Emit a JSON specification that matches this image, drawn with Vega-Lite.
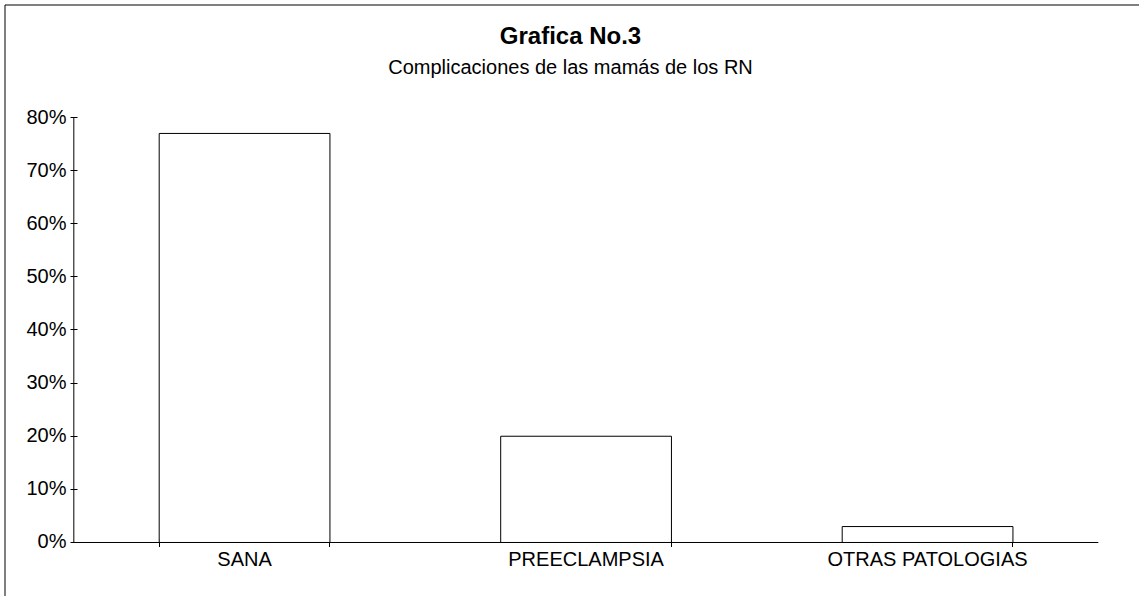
{
  "$schema": "https://vega.github.io/schema/vega-lite/v6.json",
  "width": 1150,
  "height": 600,
  "autosize": {"type": "none"},
  "padding": {"left": 4.5, "top": 4.5, "right": 0, "bottom": 0},
  "background": "white",
  "view": {"stroke": "#000000", "strokeWidth": 1},
  "config": {
    "font": "Liberation Sans",
    "axis": {"grid": false}
  },
  "title": {
    "text": "Grafica No.3",
    "subtitle": "Complicaciones de las mamás de los RN",
    "fontSize": 24,
    "fontWeight": "bold",
    "subtitleFontSize": 20,
    "subtitleFontWeight": "normal",
    "color": "#000000",
    "subtitleColor": "#000000",
    "font": "Liberation Sans",
    "subtitleFont": "Liberation Sans",
    "anchor": "middle",
    "frame": "group",
    "dx": -9,
    "offset": -73,
    "subtitlePadding": 9
  },
  "data": {
    "values": [
      {"categoria": "SANA", "porcentaje": 0.77},
      {"categoria": "PREECLAMPSIA", "porcentaje": 0.20},
      {"categoria": "OTRAS PATOLOGIAS", "porcentaje": 0.03}
    ]
  },
  "layer": [
    {
      "mark": {"type": "bar", "fill": "#ffffff", "stroke": "#000000", "strokeWidth": 1},
      "encoding": {
        "x": {
          "field": "categoria",
          "type": "nominal",
          "sort": null,
          "scale": {"paddingInner": 0.5, "paddingOuter": 0.43375, "align": 0.5222},
          "axis": {
            "title": null,
            "orient": "bottom",
            "offset": -65.5,
            "translate": 0,
            "domain": false,
            "tickBand": "extent",
            "tickSize": 8,
            "tickColor": "#000000",
            "labelFontSize": 20,
            "labelColor": "#000000",
            "labelFont": "Liberation Sans",
            "labelAngle": 0,
            "labelPadding": 3,
            "labelLimit": 0
          }
        },
        "y": {
          "field": "porcentaje",
          "type": "quantitative",
          "scale": {"domain": [-0.11671, 1.01271], "nice": false},
          "axis": {
            "title": null,
            "offset": -73,
            "translate": 0,
            "domain": false,
            "values": [0, 0.1, 0.2, 0.3, 0.4, 0.5, 0.6, 0.7, 0.8],
            "format": ".0%",
            "tickSize": 7,
            "tickColor": "#000000",
            "labelFontSize": 20,
            "labelColor": "#000000",
            "labelFont": "Liberation Sans",
            "labelPadding": 4
          }
        },
        "y2": {"datum": 0}
      }
    },
    {
      "data": {"values": [{"linea": "eje y"}]},
      "mark": {"type": "rule", "color": "#000000", "strokeWidth": 1},
      "encoding": {
        "x": {"datum": "SANA", "type": "nominal", "bandPosition": -0.5},
        "y": {"datum": 0, "type": "quantitative"},
        "y2": {"datum": 0.8}
      }
    },
    {
      "data": {"values": [{"linea": "eje x"}]},
      "mark": {"type": "rule", "color": "#000000", "strokeWidth": 1},
      "encoding": {
        "x": {"datum": "SANA", "type": "nominal", "bandPosition": -0.5},
        "x2": {"datum": "OTRAS PATOLOGIAS", "bandPosition": 1.5},
        "y": {"datum": 0, "type": "quantitative"}
      }
    }
  ]
}
